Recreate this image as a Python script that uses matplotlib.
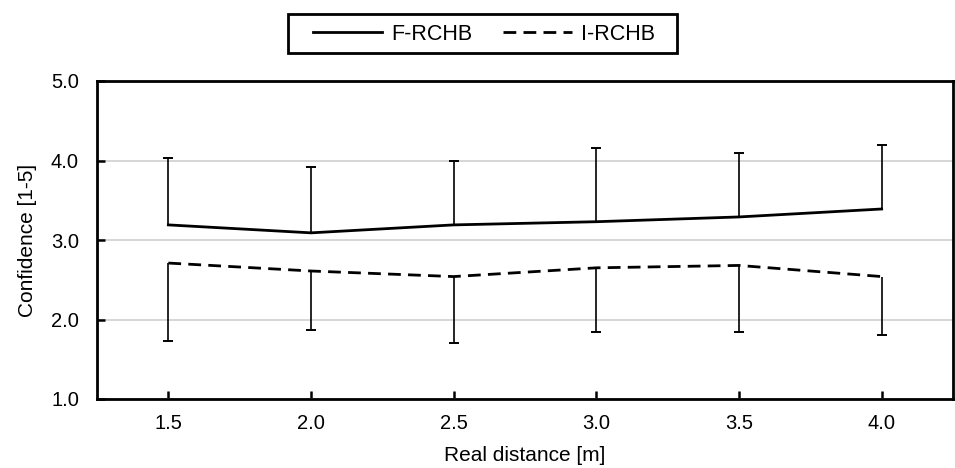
import numpy as np
import matplotlib.pyplot as plt
from matplotlib.patches import Rectangle

plt.rcParams['font.family'] = ['Liberation Sans', 'DejaVu Sans']

# data
distance = [1.5, 2.0, 2.5, 3.0, 3.5, 4.0]
f_mean = [3.19, 3.09, 3.19, 3.23, 3.29, 3.39]
f_top = [4.03, 3.92, 4.00, 4.16, 4.10, 4.20]
i_mean = [2.71, 2.61, 2.54, 2.65, 2.68, 2.54]
i_bottom = [1.73, 1.87, 1.70, 1.84, 1.84, 1.80]
yticks = [1.0, 2.0, 3.0, 4.0, 5.0]

fig = plt.figure(figsize=(9.55, 4.68), dpi=100)
ax = fig.add_axes([97/955, 1-399/468, 856/955, 318/468])

x = np.array(distance)
fm, ft = np.array(f_mean), np.array(f_top)
im, ib = np.array(i_mean), np.array(i_bottom)

ax.grid(axis='y', color='#cfcfcf', lw=1.2)
ax.set_axisbelow(True)

# error bars: F-RCHB up, I-RCHB down
ax.errorbar(x, fm, yerr=[np.zeros_like(fm), ft - fm], fmt='none',
            ecolor='black', elinewidth=1.2, capsize=0, zorder=3)
ax.plot(x, ft, ls='none', marker='_', ms=7.5, mew=1.4, color='black', zorder=3)
ax.errorbar(x, im, yerr=[im - ib, np.zeros_like(im)], fmt='none',
            ecolor='black', elinewidth=1.2, capsize=0, zorder=3)
ax.plot(x, ib, ls='none', marker='_', ms=7.5, mew=1.4, color='black', zorder=3)

l1, = ax.plot(x, fm, color='black', lw=2.0, label='F-RCHB', zorder=4)
l2, = ax.plot(x, im, color='black', lw=2.0, ls=(0, (4.6, 2.6)), label='I-RCHB', zorder=4)

ax.set_xlim(1.25, 4.25)
ax.set_ylim(1.0, 5.0)
ax.set_xticks(distance)
ax.set_xticklabels(['%.1f' % v for v in distance])
ax.set_yticks(yticks)
ax.set_yticklabels(['%.1f' % v for v in yticks])
ax.tick_params(axis='both', direction='in', length=6, width=1.8, labelsize=14.5)
ax.tick_params(axis='x', pad=11)
ax.tick_params(axis='y', pad=13)
for s in ax.spines.values():
    s.set_linewidth(2.0)

ax.set_xlabel('Real distance [m]', fontsize=15, labelpad=9)
ax.set_ylabel('Confidence [1-5]', fontsize=15, labelpad=10)

fig.legend(handles=[l1, l2], loc='center', bbox_to_anchor=(484/955, 1-34/468),
           ncol=2, frameon=False, fontsize=15.5, handlelength=3.2,
           handletextpad=0.45, columnspacing=1.4)
fig.patches.append(Rectangle((288/955, 1-53/468), 389/955, 39/468,
                             transform=fig.transFigure, fill=False,
                             edgecolor='black', lw=2.0))

fig.savefig('out.png', dpi=100)
